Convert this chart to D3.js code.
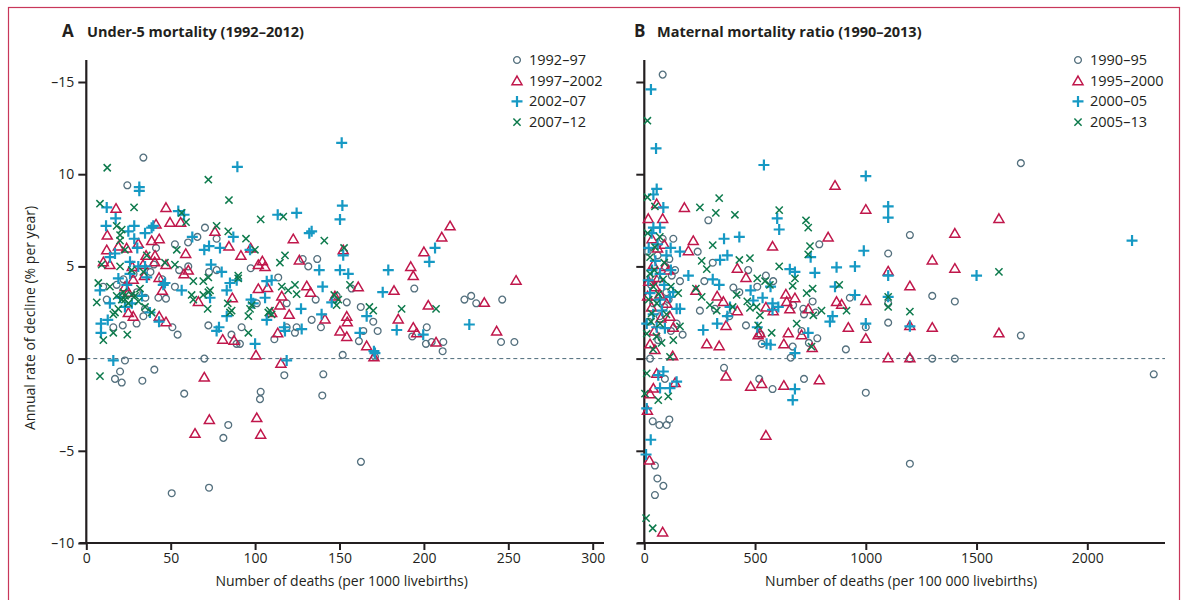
<!DOCTYPE html>
<html>
<head>
<meta charset="utf-8">
<script src="https://cdn.jsdelivr.net/npm/d3@7"></script>
<style>
  body { margin: 0; background: #fff; }
  text { font-family: "Open Sans", "Noto Sans", sans-serif; fill: #231f20; }
</style>
</head>
<body>
<div id="chart"></div>
<script>
// tick values
var xTicksA = [0, 50, 100, 150, 200, 250, 300];
var xTicksB = [0, 500, 1000, 1500, 2000];
var yTicks = [-10, -5, 0, 5, 10, 15];

var legendA = ["1992–97", "1997–2002", "2002–07", "2007–12"];
var legendB = ["1990–95", "1995–2000", "2000–05", "2005–13"];

// A: under-5 mortality, [deaths per 1000 livebirths, annual rate of decline]
var u5Circles = [[33.8,10.9],[24.3,9.4],[70.3,7.1],[52.5,6.2],[60.3,6.3],[65.8,6.6],[77.2,6.5],[41.3,6.0],[60.4,5.0],[72.7,4.7],[77.2,4.8],[97.4,4.9],[113.7,4.4],[52.5,3.9],[47.2,3.25],[42.7,3.3],[34.8,2.7],[33.8,2.3],[29.8,1.9],[16,1.7],[21.6,1.8],[12.1,3.2],[51,1.7],[54.1,1.3],[72.3,1.8],[86,1.3],[89,0.8],[91,0.8],[92,1.7],[111.4,1.05],[118.7,3.0],[118.7,1.7],[123.6,1.4],[124.6,1.7],[101,3.0],[69.9,0],[22.9,-0.1],[20,-0.7],[17,-1.1],[21,-1.3],[33.2,-1.2],[40.3,-0.6],[58,-1.9],[103.3,-1.8],[102.9,-2.2],[117.3,-0.9],[84.1,-3.6],[81.2,-4.3],[50.6,-7.3],[72.7,-7.0],
  [18,4.0],[28,4.6],[35,3.3],[40,5.1],[45,4.3],[55,4.8],[30,3.6],[22,4.3],[10,3.9],[38,4.7],
  [128.2,5.4],[131.5,5.0],[136.8,5.4],[157.2,3.8],[135.9,3.2],[154.3,3.05],[148.3,3.4],[133.5,2.1],[139,1.7],[162.6,2.8],[170,2.0],[164.1,1.5],[172.6,1.5],[161.5,0.95],[151.9,0.2],[140.4,-0.85],[139.8,-2.0],[162.7,-5.6],[194.3,3.8],[201.7,1.7],[193.1,1.2],[201.2,0.8],[204.6,0.9],[211.5,0.9],[211.1,0.4],[224,3.2],[228,3.4],[231,3.0],[246.4,3.2],[245.7,0.9],[253.6,0.9],[171,0.1]];

var u5Triangles = [[17.6,8.15],[47.2,8.2],[49.6,7.4],[55.9,7.4],[41.3,7.3],[12.4,6.7],[76.2,6.9],[122.6,6.5],[43.2,6.5],[38.7,6.4],[12.1,5.9],[19,6.1],[23.9,6.0],[30.8,6.25],[58.9,5.7],[91.6,5.6],[84.5,6.1],[97.4,6.0],[35.4,5.6],[40.7,5.6],[10.1,5.25],[14,5.1],[27.2,5.0],[33.6,5.1],[40.5,5.25],[47.2,5.1],[101.9,5.1],[104.3,5.3],[105.9,5.0],[126.2,5.35],[57.9,4.6],[60.4,4.8],[34.4,4.5],[43.1,4.4],[22.9,3.9],[24.9,3.6],[27.8,4.3],[45,3.7],[66.4,3.1],[86.5,3.3],[101.9,3.8],[107.4,3.85],[115.8,3.4],[114.7,2.9],[120.2,2.4],[24.9,2.5],[27.8,2.3],[43.2,2.3],[47.2,2.0],[109.8,2.5],[113.4,1.4],[80.8,1.05],[87.5,1.0],[100.5,0.2],[115.3,-0.25],[69.9,-1.0],[72.9,-3.3],[101,-3.2],[64.4,-4.05],[103.3,-4.1],
  [215.5,7.2],[210.6,6.6],[200,5.8],[192.2,5.0],[193.7,4.5],[182.3,3.7],[202.6,2.9],[184.8,2.15],[193.7,1.7],[195.7,1.4],[207.2,0.9],[235.8,3.05],[243.1,1.5],[254.6,4.25],[161.1,3.9],[130.6,3.95],[132.9,3.6],[141.4,2.15],[154.3,2.3],[154.6,2.0],[150.3,1.5],[154.3,1.2],[166.1,0.7],[170.4,0.1],[152.2,5.9],[147.3,3.4]];

var u5Plus = [[89.5,10.4],[31.4,9.3],[31.4,9.1],[12.1,8.2],[54.5,8.0],[57.9,7.8],[113.4,7.8],[124.6,7.9],[17.4,7.6],[11.7,7.2],[28.4,7.2],[39.7,7.2],[24.9,6.9],[34.8,6.8],[38.7,7.1],[62.8,6.6],[87.1,6.6],[28.4,6.5],[30.2,6.0],[69.9,5.9],[72.7,6.1],[79.2,6.0],[97,5.9],[14,5.5],[17,5.7],[25.9,5.25],[30.8,5.0],[34.8,5.0],[73.9,5.1],[80.2,4.7],[19,4.35],[25.9,4.6],[35.8,4.4],[46.6,4.1],[45.6,4.0],[8.1,3.7],[56.5,3.7],[85.1,4.1],[83.2,3.7],[89.1,4.25],[73.3,3.3],[97.6,3.2],[98.9,3.0],[106.9,4.2],[109.8,4.25],[105.9,3.3],[14,3.0],[22.9,2.8],[37.7,2.5],[43.1,2.0],[83.2,2.3],[106.9,2.1],[8.7,1.9],[8.7,1.4],[12.7,2.1],[78.6,1.7],[77.2,1.5],[100,0.8],[117.7,1.5],[117.3,1.7],[127.2,2.7],[127.6,1.6],[118.7,-0.1],[16,-0.1],
  [20,3.3],[27,3.0],[33,3.4],[24,4.0],
  [151.3,11.7],[151.7,8.3],[150.3,7.55],[132.1,6.8],[133.5,6.9],[152.2,5.6],[138,4.8],[150.3,4.8],[155.2,4.6],[178.9,4.8],[206.6,6.0],[203.2,5.25],[140,3.9],[175.6,3.6],[145.4,3.05],[139.4,2.4],[166.1,2.3],[162.1,1.4],[183.9,1.55],[199.6,1.3],[226.9,1.85],[170.4,0.4],[171,0.3]];

var u5Cross = [[12.4,10.35],[72.3,9.7],[84.5,8.6],[8.1,8.4],[28.3,8.2],[116.7,7.7],[103.3,7.55],[56.5,7.9],[59.1,7.4],[18,7.2],[20,6.7],[21,7.0],[77.2,7.2],[84.1,6.9],[94.6,6.5],[99.9,5.9],[53.6,5.9],[20,6.4],[22.9,5.9],[35.8,5.6],[117.7,5.6],[114.7,5.2],[9.1,5.1],[20,5.0],[26.9,4.8],[33.8,4.7],[46.6,5.2],[52.5,5.1],[90,4.5],[90,4.35],[63.4,4.2],[69.3,4.2],[72.3,4.4],[115.8,3.9],[123.6,4.0],[119.6,3.7],[124.6,3.5],[7.1,4.1],[14,3.9],[18,3.4],[22.9,3.2],[26.9,3.45],[31.8,3.8],[6.2,3.05],[62.4,3.45],[63.4,3.2],[69.3,3.45],[72.3,3.6],[73.3,3.7],[83.8,3.0],[86.1,2.6],[85.1,2.5],[71.9,2.7],[98,2.9],[97,2.7],[108.8,2.6],[107.8,2.5],[109.8,2.4],[96,2.3],[96,1.4],[38.7,2.5],[34.8,2.8],[17,2.5],[16,2.4],[19,2.7],[16,1.4],[10.1,1.0],[24.3,1.3],[8.1,-0.95],[21,3.2],[22.9,3.4],[24.9,3.0],[28.9,3.4],[30.8,3.1],[21.9,3.6],
  [141,6.4],[152.7,6.0],[156.2,4.0],[146.9,3.45],[149.3,3.2],[148.3,2.9],[167.7,2.8],[170,2.6],[186.8,2.7],[207.2,2.7]];

// B: maternal mortality ratio, [deaths per 100 000 livebirths, annual rate of decline]
var mmrCircles = [[83,15.4],[289,7.5],[83,6.5],[131,6.5],[241,5.8],[309,5.2],[113,5.4],[139,4.8],[93,5.0],[124,4.5],[161,4.2],[271,4.2],[429,3.6],[402,3.85],[469,4.8],[549,4.5],[582,4.2],[510,3.9],[251,2.6],[319,2.7],[384,2.3],[459,1.8],[525,1.3],[530,0.8],[672,2.9],[718,2.7],[721,2.4],[760,3.1],[773,2.5],[710,1.5],[743,0.85],[781,1.1],[670,0.65],[661,0.05],[790,6.2],[928,3.3],[910,0.5],[1000,1.7],[1000,-1.85],[360,-0.5],[519,-1.1],[579,-1.65],[721,-1.1],[173,1.3],[146,1.9],[63,1.0],[26,0.0],[93,-1.1],[38,-3.4],[68,-3.6],[101,-3.6],[113,-3.3],[48,-5.8],[59,-6.5],[86,-6.9],[48,-7.4],[40,3.0],[70,2.3],[100,3.6],[30,4.0],[120,1.5],
  [20,2.0],[50,4.3],[90,2.8],[110,3.2],[15,5.8],[60,5.6],
  [1700,10.6],[1199,6.7],[1101,5.7],[1300,3.4],[1402,3.1],[1101,3.0],[1101,1.95],[1700,1.25],[1199,0],[1300,0],[1402,0],[2300,-0.85],[1199,-5.7]];

var mmrTriangles = [[861,9.4],[1000,8.1],[181,8.2],[18,7.6],[83,7.6],[56,8.4],[221,6.4],[199,5.85],[579,6.1],[830,6.6],[41,5.1],[93,5.0],[63,4.4],[420,4.9],[459,4.4],[233,3.7],[329,3.4],[357,3.1],[420,2.6],[549,2.8],[582,2.6],[639,3.5],[680,3.3],[643,3.1],[657,2.7],[740,2.7],[868,3.1],[891,2.95],[1000,3.15],[369,1.8],[514,1.3],[522,1.4],[650,1.4],[710,1.3],[630,0.8],[758,0.6],[921,1.7],[1000,1.1],[282,0.8],[338,0.7],[26,0.8],[48,0.5],[128,0.15],[369,-0.95],[480,-1.5],[530,-1.35],[630,-1.45],[790,-1.15],[549,-4.15],[56,-0.8],[41,-1.6],[26,-1.9],[139,-1.3],[14,-2.8],[23,-5.5],[83,-9.4],[48,3.9],[70,3.5],[101,3.0],[131,1.7],[33,2.8],[116,2.3],
  [20,4.2],[60,6.0],[90,6.2],[35,6.5],[110,4.8],[75,2.2],[45,1.5],[15,3.4],
  [1601,7.6],[1402,6.8],[1300,5.35],[1402,4.9],[1101,4.75],[1199,3.95],[1199,1.8],[1300,1.7],[1601,1.4],[1101,0.05],[1199,0.05]];

var mmrPlus = [[30,14.6],[53,11.4],[540,10.5],[1000,9.9],[56,9.2],[41,8.9],[86,8.2],[41,7.1],[71,7.1],[33,6.8],[600,7.6],[609,7.0],[360,6.5],[429,6.6],[119,6.0],[161,5.8],[751,5.5],[991,5.85],[342,5.35],[375,5.6],[657,4.85],[680,4.7],[770,4.65],[868,4.95],[951,5.0],[199,4.5],[309,4.3],[338,4.0],[18,4.25],[71,4.6],[480,3.7],[570,3.9],[861,3.9],[951,3.45],[492,3.15],[534,3.3],[579,3.0],[579,2.65],[605,2.8],[387,2.8],[375,2.3],[146,2.7],[161,2.7],[329,1.9],[266,1.55],[850,2.3],[838,2.0],[1000,1.9],[740,1.4],[510,1.7],[552,0.8],[570,0.75],[680,0.3],[680,-1.65],[670,-2.25],[11,1.9],[56,1.7],[93,1.65],[26,3.55],[116,3.35],[71,3.2],[86,-0.7],[63,-0.9],[146,-1.25],[116,-1.6],[71,-1.6],[11,-2.7],[29,-4.4],[8,-5.2],
  [20,6.0],[50,5.3],[90,4.0],[120,4.8],[40,2.4],[80,2.6],[35,4.8],[100,5.6],[60,6.2],[130,3.6],
  [1101,8.25],[1101,7.65],[1101,4.5],[1101,3.35],[1199,1.75],[1500,4.5],[2202,6.4]];

var mmrCross = [[14,12.9],[338,8.7],[251,8.2],[323,7.9],[409,7.8],[609,8.05],[730,7.5],[740,7.1],[14,8.75],[48,8.25],[309,6.15],[748,6.1],[740,5.65],[259,5.3],[282,4.85],[429,5.35],[477,5.45],[609,5.0],[510,4.35],[545,4.2],[567,4.0],[670,3.95],[680,4.35],[760,3.8],[733,3.55],[880,4.0],[233,3.8],[259,3.35],[296,2.9],[327,2.6],[417,3.45],[399,2.8],[465,3.1],[477,2.75],[507,2.8],[522,2.35],[514,1.8],[575,1.4],[800,2.6],[763,2.35],[913,2.6],[688,1.9],[755,0.65],[11,-0.8],[3,-1.9],[63,-2.25],[108,-2.05],[8,-8.65],[38,-9.2],[26,4.6],[41,3.9],[56,3.0],[33,2.45],[71,1.9],[11,1.35],[78,0.85],[131,1.0],[116,0.1],[153,3.55],[161,1.75],[48,6.05],[26,5.5],
  [20,3.2],[45,4.8],[65,3.5],[85,4.3],[100,2.4],[30,2.0],[55,1.2],[15,6.8],[90,5.2],[120,3.9],[70,6.6],[40,0.5],
  [1601,4.7],[1101,3.35],[1101,2.8],[1199,2.55]];

// marker styles: circle, triangle, plus, cross
var markers = [
  {path: "M3.4,0A3.4,3.4 0 1,1 -3.4,0A3.4,3.4 0 1,1 3.4,0Z", color: "#54707e", width: 1.3},
  {path: "M0,-4.6L5,4L-5,4Z", color: "#c0174b", width: 1.5},
  {path: "M-5.5,0H5.5M0,-5.5V5.5", color: "#1699c4", width: 2.2},
  {path: "M-3.6,-3.6L3.6,3.6M-3.6,3.6L3.6,-3.6", color: "#0d7a4c", width: 1.5}
];

var svg = d3.select("#chart")
  .append("svg")
    .attr("width", 1187)
    .attr("height", 600);

// frame
svg.append("rect")
  .attr("x", 8.5).attr("y", 7.5)
  .attr("width", 1171).attr("height", 600)
  .style("fill", "none")
  .style("stroke", "#c8375a")
  .style("stroke-width", 1.2);

var y = d3.scaleLinear().domain([-10, 15]).range([543, 82]);

var panels = [
  {letter: "A", title: "Under-5 mortality (1992–2012)", letterX: 62, titleX: 87,
   x: d3.scaleLinear().domain([0, 300]).range([86.3, 592.7]), xTicks: xTicksA, axisEnd: 604,
   xLabel: "Number of deaths (per 1000 livebirths)", labels: true,
   series: [u5Circles, u5Triangles, u5Plus, u5Cross], legend: legendA, legendX: 517},
  {letter: "B", title: "Maternal mortality ratio (1990–2013)", letterX: 634, titleX: 657,
   x: d3.scaleLinear().domain([0, 2000]).range([644.3, 1087.3]), xTicks: xTicksB, axisEnd: 1165,
   xLabel: "Number of deaths (per 100 000 livebirths)", labels: false,
   series: [mmrCircles, mmrTriangles, mmrPlus, mmrCross], legend: legendB, legendX: 1078}
];

function minusFmt(d) {
  // the original prints the top tick with a dash too
  if (d === 15) return "–15";
  return d < 0 ? "–" + Math.abs(d) : "" + d;
}

panels.forEach(function(p) {
  var x0 = p.x(0);

  // titles
  svg.append("text")
    .attr("x", p.letterX).attr("y", 37)
    .style("font-size", "17px").style("font-weight", "bold")
    .text(p.letter);
  svg.append("text")
    .attr("x", p.titleX).attr("y", 37)
    .style("font-size", "14.5px").style("font-weight", "bold")
    .text(p.title);

  // zero line
  svg.append("line")
    .attr("x1", x0).attr("x2", p.axisEnd)
    .attr("y1", y(0)).attr("y2", y(0))
    .style("stroke", "#4d6b7a")
    .style("stroke-width", 1)
    .style("stroke-dasharray", "4,3");

  // x axis
  var gx = svg.append("g")
    .attr("transform", "translate(0," + y(-10) + ")")
    .call(d3.axisBottom(p.x).tickValues(p.xTicks).tickSize(7).tickPadding(3)
      .tickFormat(d3.format("d")));
  gx.select(".domain").remove();
  gx.append("line")
    .attr("x1", x0 - 7).attr("x2", p.axisEnd)
    .style("stroke", "#231f20").style("stroke-width", 2.2);

  // y axis
  var gy = svg.append("g")
    .attr("transform", "translate(" + x0 + ",0)")
    .call(d3.axisLeft(y).tickValues(yTicks).tickSize(8).tickPadding(4)
      .tickFormat(p.labels ? minusFmt : ""));
  gy.select(".domain").remove();
  gy.append("line")
    .attr("y1", 60).attr("y2", y(-10))
    .style("stroke", "#231f20").style("stroke-width", 2.2);

  [gx, gy].forEach(function(g) {
    g.selectAll(".tick line").style("stroke", "#231f20").style("stroke-width", 2);
    g.selectAll(".tick text")
      .style("font-size", "14px")
      .style("font-family", "'Open Sans', sans-serif")
      .style("fill", "#231f20");
  });

  // x label
  svg.append("text")
    .attr("x", (x0 - 7 + p.axisEnd) / 2).attr("y", 586)
    .attr("text-anchor", "middle")
    .style("font-size", "14px")
    .text(p.xLabel);

  // points
  p.series.forEach(function(data, i) {
    var m = markers[i];
    svg.append("g")
      .selectAll("path")
      .data(data)
      .enter()
      .append("path")
        .attr("transform", function(d) { return "translate(" + p.x(d[0]) + "," + y(d[1]) + ")"; })
        .attr("d", m.path)
        .style("fill", "none")
        .style("stroke", m.color)
        .style("stroke-width", m.width);
  });

  // legend
  p.legend.forEach(function(name, i) {
    var m = markers[i];
    var ly = 60 + i * 20.7;
    svg.append("path")
      .attr("transform", "translate(" + p.legendX + "," + ly + ")")
      .attr("d", m.path)
      .style("fill", "none")
      .style("stroke", m.color)
      .style("stroke-width", m.width);
    svg.append("text")
      .attr("x", p.legendX + 12).attr("y", ly + 5)
      .style("font-size", "14.5px")
      .text(name);
  });
});

// y label
svg.append("text")
  .attr("transform", "translate(35,318) rotate(-90)")
  .attr("text-anchor", "middle")
  .style("font-size", "14px")
  .text("Annual rate of decline (% per year)");
</script>
</body>
</html>
